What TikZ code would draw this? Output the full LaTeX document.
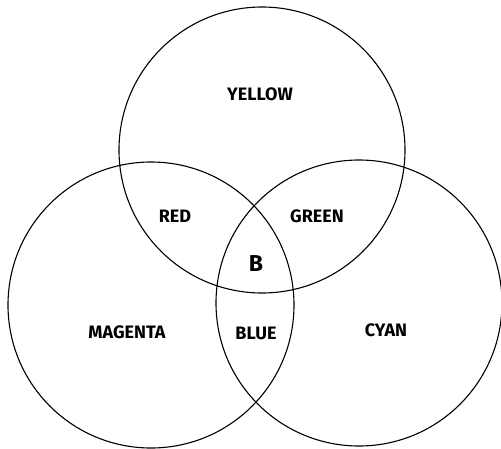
\documentclass[tikz,border=0pt]{standalone}
\usepackage{fontspec}
\setmainfont{Fira Sans}
\begin{document}
\begin{tikzpicture}[x=1pt,y=-1pt,
  ring/.style={circle,draw=black,line width=1.1pt,minimum size=286pt,inner sep=0pt},
  lbl/.style={font=\fontsize{18}{20}\selectfont\bfseries,inner sep=1pt,text=black}]
\useasboundingbox (0,0) rectangle (501,448);
\node[ring] (ycirc) at (262,150) {};
\node[ring] (mcirc) at (151,305) {};
\node[ring] (ccirc) at (359,303) {};
\node[lbl] (yellow) at (260,94) {YELLOW};
\node[lbl] (red) at (175,216) {RED};
\node[lbl] (green) at (317,216) {GREEN};
\node[lbl,font=\fontsize{23}{25}\selectfont\bfseries] (b) at (256,264) {B};
\node[lbl] (magenta) at (127,332) {MAGENTA};
\node[lbl] (blue) at (256,333) {BLUE};
\node[lbl] (cyan) at (386,330) {CYAN};
\end{tikzpicture}
\end{document}
